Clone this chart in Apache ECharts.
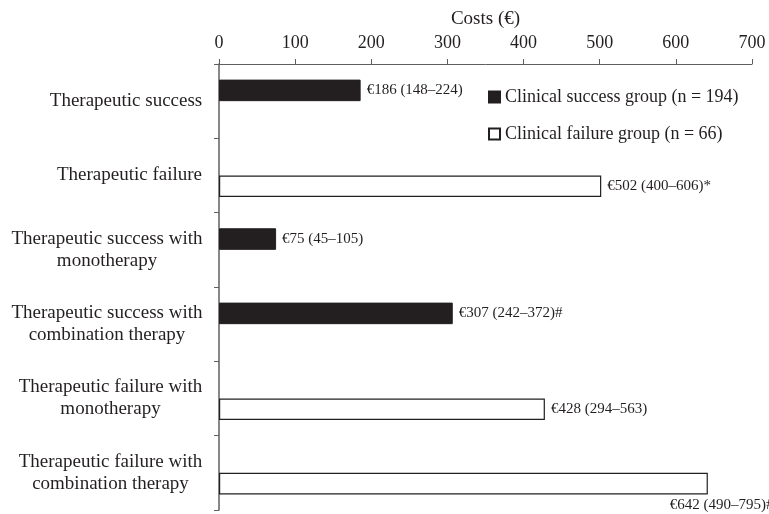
<!DOCTYPE html>
<html>
<head>
<meta charset="utf-8">
<script src="https://cdn.jsdelivr.net/npm/echarts@6/dist/echarts.min.js"></script>
<style>
  html, body { margin: 0; padding: 0; background: #fff; }
  #chart { width: 769px; height: 514px; }
</style>
</head>
<body>
<div id="chart"></div>
<script>
// Median treatment costs (€) with interquartile ranges per outcome group
const categories = [
  'Therapeutic success',
  'Therapeutic failure',
  'Therapeutic success with\nmonotherapy',
  'Therapeutic success with\ncombination therapy',
  'Therapeutic failure with\nmonotherapy',
  'Therapeutic failure with\ncombination therapy'
];
const seriesNames = ['Clinical success group (n = 194)', 'Clinical failure group (n = 66)'];
const successCosts = [186, null, 75, 307, null, null];
const failureCosts = [null, 502, null, null, 428, 642];
const rangeLow = [148, 400, 45, 242, 294, 490];
const rangeHigh = [224, 606, 105, 372, 563, 795];
const significance = ['', '*', '', '#', '', '#'];
const costTicks = [0, 100, 200, 300, 400, 500, 600, 700];

const INK = '#231f20';
const AXIS = '#5f5f5f';
const SERIF = '"Liberation Serif", "DejaVu Serif", serif';

// Category labels: block right-aligned at the axis, lines centred within the block
const measure = document.createElement('canvas').getContext('2d');
measure.font = '19px "Liberation Serif"';
const catRich = {};
categories.forEach((c, i) => {
  const w = Math.max(...c.split('\n').map(l => measure.measureText(l).width));
  catRich['c' + i] = {
    width: Math.ceil(w) + 1, align: 'center',
    fontSize: 19, lineHeight: 22, fontFamily: SERIF, color: INK
  };
});

const costMax = costTicks[costTicks.length - 1];

function labelText(i) {
  const v = successCosts[i] != null ? successCosts[i] : failureCosts[i];
  return '€' + v + ' (' + rangeLow[i] + '–' + rangeHigh[i] + ')' + significance[i];
}

function buildData(values) {
  return values.map((v, i) => {
    if (v == null) return null;
    const item = { value: v, label: { formatter: labelText(i) } };
    // Long bars near the axis end carry their label underneath
    if (v > costMax * 0.85) {
      item.label.position = ['100%', '100%'];
      item.label.align = 'left';
      item.label.verticalAlign = 'top';
      item.label.offset = [-38, 3];
    }
    return item;
  });
}

const barLabel = {
  show: true,
  position: 'right',
  distance: 6,
  fontSize: 15,
  fontFamily: SERIF,
  color: INK
};

const chart = echarts.init(document.getElementById('chart'), null, { renderer: 'canvas' });
chart.setOption({
  animation: false,
  backgroundColor: '#fff',
  grid: { left: 219, right: 17, top: 64, bottom: 4, containLabel: false },
  legend: {
    data: seriesNames,
    orient: 'vertical',
    left: 483,
    top: 82,
    icon: 'rect',
    itemWidth: 11,
    itemHeight: 11,
    itemGap: 17,
    textStyle: { fontSize: 18, fontFamily: SERIF, color: INK, lineHeight: 20 }
  },
  xAxis: {
    type: 'value',
    position: 'top',
    min: costTicks[0],
    max: costMax,
    interval: costTicks[1] - costTicks[0],
    name: 'Costs (€)',
    nameLocation: 'middle',
    nameGap: 35,
    nameTextStyle: { fontSize: 19, fontFamily: SERIF, color: INK },
    axisLine: { show: true, lineStyle: { color: AXIS, width: 1 } },
    axisTick: { show: true, length: 5, lineStyle: { color: AXIS } },
    axisLabel: { fontSize: 18, fontFamily: SERIF, color: INK, margin: 12 },
    splitLine: { show: false }
  },
  yAxis: {
    type: 'category',
    inverse: true,
    data: categories,
    axisLine: { show: true, lineStyle: { color: AXIS, width: 1.5 } },
    axisTick: { show: true, length: 5, lineStyle: { color: AXIS } },
    axisLabel: {
      margin: 16,
      formatter: (v, i) => v.split('\n').map(l => '{c' + i + '|' + l + '}').join('\n'),
      rich: catRich
    },
    splitLine: { show: false }
  },
  series: [
    {
      name: seriesNames[0],
      type: 'bar',
      data: buildData(successCosts),
      barGap: '0%',
      barCategoryGap: '42%',
      itemStyle: { color: INK, borderColor: INK, borderWidth: 1 },
      label: barLabel
    },
    {
      name: seriesNames[1],
      type: 'bar',
      data: buildData(failureCosts),
      barGap: '0%',
      barCategoryGap: '42%',
      itemStyle: { color: '#ffffff', borderColor: INK, borderWidth: 1.2 },
      label: barLabel
    }
  ]
});
</script>
</body>
</html>
